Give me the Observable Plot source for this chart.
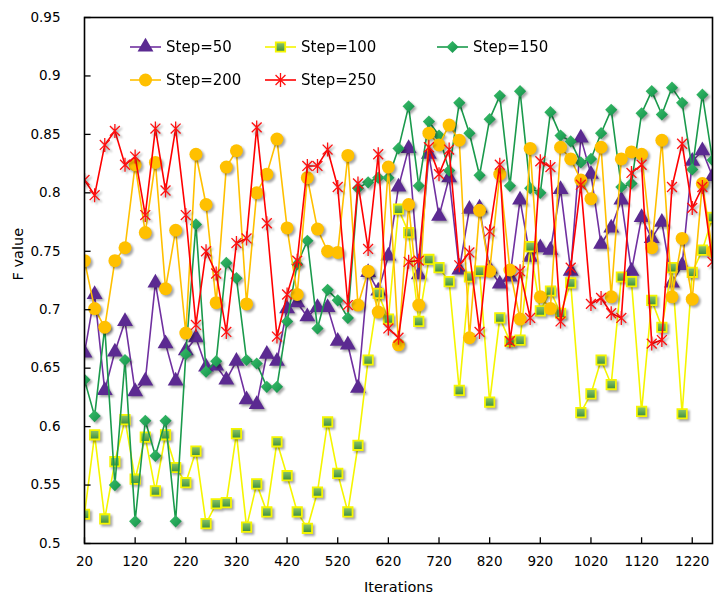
<!DOCTYPE html>
<html><head><meta charset="utf-8">
<script src="https://cdn.jsdelivr.net/npm/d3@7"></script>
<script src="https://cdn.jsdelivr.net/npm/@observablehq/plot@0.6"></script>
<style>
body{margin:0;background:#fff;font-family:"DejaVu Sans",Verdana,sans-serif;}
#wrap{position:relative;width:714px;height:598px;overflow:hidden;}
#chart svg g[aria-label="dot"]{filter:drop-shadow(2px 2px 1.2px rgba(0,0,0,0.35));}
.leg{position:absolute;display:flex;align-items:center;font-size:15px;color:#000;white-space:nowrap;}
.leg svg{display:block;margin-right:5px;overflow:visible;}
</style></head><body>
<div id="wrap"><div id="chart"></div><div id="legend"></div></div>
<script>
const iterations = [20,40,60,80,100,120,140,160,180,200,220,240,260,280,300,320,340,360,380,400,420,440,460,480,500,520,540,560,580,600,620,640,660,680,700,720,740,760,780,800,820,840,860,880,900,920,940,960,980,1000,1020,1040,1060,1080,1100,1120,1140,1160,1180,1200,1220,1240,1260];

const step50 = [0.663,0.713,0.631,0.664,0.690,0.630,0.639,0.723,0.671,0.639,0.665,0.676,0.651,0.652,0.640,0.656,0.623,0.619,0.662,0.656,0.701,0.706,0.694,0.702,0.702,0.673,0.670,0.633,0.732,0.716,0.746,0.805,0.838,0.730,0.833,0.780,0.813,0.734,0.786,0.787,0.735,0.722,0.728,0.794,0.745,0.753,0.751,0.803,0.733,0.847,0.816,0.756,0.770,0.794,0.733,0.779,0.761,0.775,0.723,0.738,0.827,0.836,0.814];
const step100 = [0.525,0.593,0.521,0.570,0.606,0.555,0.591,0.545,0.593,0.565,0.552,0.579,0.517,0.534,0.535,0.594,0.514,0.551,0.527,0.587,0.558,0.527,0.513,0.544,0.604,0.560,0.527,0.584,0.657,0.714,0.692,0.786,0.766,0.690,0.743,0.736,0.724,0.631,0.728,0.733,0.621,0.693,0.673,0.674,0.754,0.699,0.716,0.697,0.723,0.612,0.628,0.657,0.636,0.728,0.724,0.613,0.708,0.685,0.736,0.611,0.732,0.751,0.779];
const step150 = [0.640,0.609,0.685,0.550,0.657,0.519,0.605,0.575,0.605,0.519,0.662,0.773,0.647,0.656,0.740,0.727,0.657,0.654,0.634,0.634,0.690,0.739,0.759,0.684,0.717,0.708,0.693,0.804,0.809,0.813,0.813,0.838,0.874,0.806,0.861,0.849,0.819,0.877,0.851,0.815,0.863,0.883,0.806,0.887,0.804,0.800,0.869,0.849,0.844,0.826,0.829,0.851,0.871,0.805,0.808,0.868,0.887,0.867,0.890,0.877,0.820,0.884,0.828];
const step200 = [0.742,0.701,0.685,0.742,0.753,0.824,0.766,0.826,0.718,0.768,0.680,0.833,0.790,0.706,0.822,0.836,0.705,0.800,0.816,0.846,0.770,0.713,0.813,0.769,0.750,0.749,0.832,0.704,0.733,0.698,0.822,0.670,0.790,0.704,0.851,0.841,0.858,0.845,0.676,0.785,0.733,0.816,0.734,0.692,0.838,0.711,0.701,0.839,0.829,0.811,0.795,0.839,0.711,0.829,0.835,0.833,0.753,0.845,0.711,0.761,0.709,0.808,0.750];
const step250 = [0.811,0.798,0.841,0.853,0.824,0.831,0.781,0.855,0.802,0.855,0.781,0.687,0.750,0.731,0.681,0.757,0.761,0.856,0.774,0.677,0.713,0.742,0.823,0.823,0.837,0.805,0.704,0.808,0.752,0.833,0.684,0.676,0.741,0.742,0.839,0.816,0.837,0.738,0.749,0.681,0.767,0.824,0.673,0.733,0.693,0.827,0.822,0.690,0.736,0.807,0.705,0.710,0.697,0.693,0.817,0.824,0.671,0.674,0.805,0.842,0.787,0.805,0.741];

const seriesNames = ["Step=50","Step=100","Step=150","Step=200","Step=250"];
const seriesValues = [step50, step100, step150, step200, step250];
const xTicks = [20,120,220,320,420,520,620,720,820,920,1020,1120,1220];
const yTicks = [0.5,0.55,0.6,0.65,0.7,0.75,0.8,0.85,0.9,0.95];
const xTitle = "Iterations";
const yTitle = "F value";

// styles
const asterisk = {draw(ctx, size){const r=Math.sqrt(size/Math.PI);const d=r*Math.SQRT1_2;
  ctx.moveTo(0,-r);ctx.lineTo(0,r);ctx.moveTo(-d,-d);ctx.lineTo(d,d);ctx.moveTo(-d,d);ctx.lineTo(d,-d);}};
const styles = [
  {line:"#7030a0", symbol:"triangle", r:5.9, fill:"#5b2a91", stroke:"none", sw:0},
  {line:"#f5f500", symbol:"square", r:5.3, fill:"url(#gSq)", stroke:"#f5f500", sw:1.8},
  {line:"#1a9a4c", symbol:"diamond2", r:5.5, fill:"url(#gDi)", stroke:"none", sw:0},
  {line:"#ffc000", symbol:"circle", r:6.5, fill:"#ffc000", stroke:"none", sw:0},
  {line:"#ff0000", symbol:asterisk, r:7, fill:"none", stroke:"#ff1010", sw:1.3}
];

const rows = [];
seriesNames.forEach((name, s) => seriesValues[s].forEach((v, i) => rows.push({series: name, s, x: iterations[i], y: v})));

const marks = [];
seriesNames.forEach((name, s) => {
  const data = rows.filter(d => d.s === s);
  const st = styles[s];
  marks.push(Plot.line(data, {x:"x", y:"y", stroke: st.line, strokeWidth: 1.6, clip: true}));
  marks.push(Plot.dot(data, {x:"x", y:"y", symbol: st.symbol, r: st.r, fill: st.fill, stroke: st.stroke, strokeWidth: st.sw, clip: true}));
});

const chart = Plot.plot({
  width: 714, height: 598,
  marginTop: 17, marginBottom: 55, marginLeft: 84, marginRight: 2,
  style: {fontFamily: '"DejaVu Sans", Verdana, sans-serif', fontSize: "13px", color: "#000", background: "#fff"},
  x: {domain: [20, 1260]},
  y: {domain: [0.5, 0.95]},
  marks: [
    ...marks,
    Plot.ruleX(xTicks, {x: d => d, y1: 0.5, y2: 0.5049, stroke: "#000", strokeWidth: 1.3}),
    Plot.ruleY(yTicks, {y: d => d, x1: 20, x2: 33, stroke: "#000", strokeWidth: 1.3}),
    Plot.frame({stroke: "#000", strokeWidth: 1.6}),
    Plot.axisX(xTicks, {tickSize: 0, tickPadding: 13, tickFormat: d => String(d), label: null, fontSize: 13.5}),
    Plot.axisY(yTicks, {tickSize: 0, tickPadding: 24, tickFormat: d => String(d), label: null, fontSize: 13.5}),
    Plot.text([xTitle], {frameAnchor: "bottom", dy: 48, fontSize: 14.5, text: d => d}),
    Plot.text([yTitle], {frameAnchor: "left", dx: -66, rotate: -90, fontSize: 14.5, text: d => d})
  ]
});
document.getElementById("chart").appendChild(chart);

d3.select(chart).insert("defs", ":first-child").html(`
  <linearGradient id="gSq" x1="0" y1="0" x2="0" y2="1">
    <stop offset="0" stop-color="#8fc96a"/><stop offset="1" stop-color="#3c8c3c"/></linearGradient>
  <linearGradient id="gDi" x1="0" y1="0" x2="1" y2="1">
    <stop offset="0" stop-color="#3bbf6a"/><stop offset="1" stop-color="#12904a"/></linearGradient>`);

// legend (inside plot area)
const legendPos = [[130,47],[265,47],[437,47],[130,80],[265,80]];
const leg = document.getElementById("legend");
seriesNames.forEach((name, s) => {
  const st = styles[s];
  const div = document.createElement("div");
  div.className = "leg";
  div.style.left = legendPos[s][0] + "px";
  div.style.top = (legendPos[s][1] - 10) + "px";
  div.style.height = "20px";
  const svg = d3.create("svg").attr("width", 31).attr("height", 20);
  svg.append("defs").html(s===1?`<linearGradient id="lgSq" x1="0" y1="0" x2="0" y2="1"><stop offset="0" stop-color="#8fc96a"/><stop offset="1" stop-color="#3c8c3c"/></linearGradient>`:
    s===2?`<linearGradient id="lgDi" x1="0" y1="0" x2="1" y2="1"><stop offset="0" stop-color="#3bbf6a"/><stop offset="1" stop-color="#12904a"/></linearGradient>`:"");
  svg.append("line").attr("x1",0).attr("x2",31).attr("y1",10).attr("y2",10).attr("stroke",st.line).attr("stroke-width",1.6);
  const symType = st.symbol === "triangle" ? d3.symbolTriangle : st.symbol === "square" ? d3.symbolSquare : st.symbol === "diamond2" ? d3.symbolDiamond2 : st.symbol === "circle" ? d3.symbolCircle : asterisk;
  const fill = s===1 ? "url(#lgSq)" : s===2 ? "url(#lgDi)" : st.fill;
  svg.append("path").attr("transform","translate(15.5,10)").attr("d", d3.symbol(symType, Math.PI*st.r*st.r)())
    .attr("fill", fill).attr("stroke", st.stroke).attr("stroke-width", st.sw);
  div.appendChild(svg.node());
  const span = document.createElement("span");
  span.textContent = name;
  div.appendChild(span);
  leg.appendChild(div);
});
</script>
</body></html>
